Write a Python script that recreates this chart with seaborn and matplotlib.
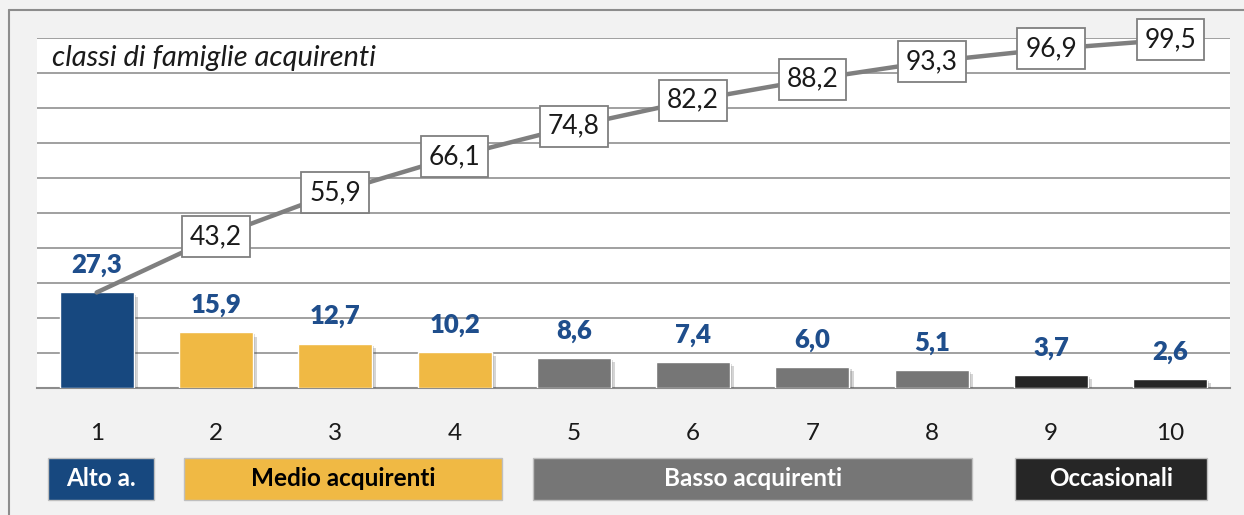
import matplotlib
matplotlib.use("Agg")
import matplotlib.pyplot as plt
import matplotlib.patheffects as pe
from matplotlib.patches import Rectangle
from matplotlib.lines import Line2D
import matplotlib.transforms as mtransforms
import seaborn as sns
import pandas as pd

# ---- data ----
classes = ["1", "2", "3", "4", "5", "6", "7", "8", "9", "10"]
share = [27.3, 15.9, 12.7, 10.2, 8.6, 7.4, 6.0, 5.1, 3.7, 2.6]
cumulative = [27.3, 43.2, 55.9, 66.1, 74.8, 82.2, 88.2, 93.3, 96.9, 99.5]
share_labels = ["27,3", "15,9", "12,7", "10,2", "8,6", "7,4", "6,0", "5,1", "3,7", "2,6"]
cum_labels = ["27,3", "43,2", "55,9", "66,1", "74,8", "82,2", "88,2", "93,3", "96,9", "99,5"]
group_names = ["Alto a.", "Medio acquirenti", "Basso acquirenti", "Occasionali"]
group_of_class = ["Alto a.", "Medio acquirenti", "Medio acquirenti", "Medio acquirenti",
                  "Basso acquirenti", "Basso acquirenti", "Basso acquirenti", "Basso acquirenti",
                  "Occasionali", "Occasionali"]
title_text = "classi di famiglie acquirenti"

# ---- styles ----
group_colors = {"Alto a.": "#17487f", "Medio acquirenti": "#f0b944",
                "Basso acquirenti": "#767676", "Occasionali": "#262626"}
group_text_colors = {"Alto a.": "white", "Medio acquirenti": "black",
                     "Basso acquirenti": "white", "Occasionali": "white"}
# box extents (data x coords) for the group labels
group_box_x = {"Alto a.": (-0.41, 0.48), "Medio acquirenti": (0.73, 3.40),
               "Basso acquirenti": (3.66, 7.34), "Occasionali": (7.70, 9.31)}

sns.set_theme(style="white")
plt.rcParams['font.family'] = ['Lato', 'DejaVu Sans']

W, H = 1244, 515
fig = plt.figure(figsize=(W / 100, H / 100), dpi=100, facecolor="#f2f2f2")
ax = fig.add_axes([37 / W, 1 - 388 / H, (1230 - 37) / W, (388 - 38) / H])
ax.set_facecolor("white")

df = pd.DataFrame({"classe": classes, "quota": share, "gruppo": group_of_class})
sns.barplot(data=df, x="classe", y="quota", hue="gruppo", palette=group_colors,
            dodge=False, width=0.62, legend=False, ax=ax, zorder=3, saturation=1)

for p in ax.patches:
    p.set_path_effects([pe.SimplePatchShadow(offset=(3, -3), alpha=0.22, shadow_rgbFace="#404040"),
                        pe.SimplePatchShadow(offset=(1.5, -1.5), alpha=0.22, shadow_rgbFace="#404040"),
                        pe.Normal()])

# bar value labels
for i, (v, lab) in enumerate(zip(share, share_labels)):
    ax.annotate(lab, (i, v), xytext=(0, 14), textcoords="offset points",
                ha="center", va="baseline", fontsize=18.5, fontweight="heavy",
                color="#1f4e8c", zorder=6)

# cumulative line
xs = list(range(len(classes)))
sns.lineplot(x=xs, y=cumulative, ax=ax, color="#7f7f7f", linewidth=3.2, zorder=4,
             estimator=None, sort=False)
for i, (v, lab) in enumerate(zip(cumulative, cum_labels)):
    if i == 0:
        continue
    ax.text(i, v, lab, ha="center", va="center", fontsize=19, color="#1a1a1a", zorder=7,
            bbox=dict(boxstyle="square,pad=0.3", facecolor="white", edgecolor="#7f7f7f",
                      linewidth=1.3), clip_on=False)

ax.set_ylim(0, 100)
ax.set_xlim(-0.5, len(classes) - 0.5)
ax.set_yticks(range(0, 101, 10))
ax.set_yticklabels([])
ax.yaxis.grid(True, color="#a0a0a0", linewidth=1.4, zorder=0)
ax.set_axisbelow(True)
for s in ["left", "right", "top"]:
    ax.spines[s].set_visible(False)
ax.spines["bottom"].set_color("#8c8c8c")
ax.spines["bottom"].set_linewidth(1.5)
ax.set_xlabel("")
ax.set_ylabel("")
ax.tick_params(axis="y", length=0)
ax.tick_params(axis="x", which="major", length=0, pad=25, labelsize=17.5, labelcolor="#1a1a1a")
ax.set_xticks(xs, minor=False)
ax.set_xticklabels(classes)
ax.set_xticks([x - 0.5 for x in range(len(classes) + 1)], minor=True)
ax.tick_params(axis="x", which="minor", length=8, width=1.5, color="#8c8c8c", direction="out")

ax.text(0.0126, 0.943, title_text, transform=ax.transAxes, ha="left", va="center",
        fontsize=21, fontstyle="italic", color="#1a1a1a")

# group label boxes
trans = mtransforms.blended_transform_factory(ax.transData, ax.transAxes)
y0, y1 = -0.32, -0.20
for g in group_names:
    xa, xb = group_box_x[g]
    ax.add_patch(Rectangle((xa, y0), xb - xa, y1 - y0, transform=trans, clip_on=False,
                           facecolor=group_colors[g], edgecolor="#bfbfbf", linewidth=1.0))
    ax.text((xa + xb) / 2, (y0 + y1) / 2, g, transform=trans, ha="center", va="center",
            fontsize=17.5, fontweight="bold", color=group_text_colors[g])

# outer border
fig.add_artist(Line2D([9 / W, 9 / W], [0, 1 - 10 / H], transform=fig.transFigure,
                      color="#8c8c8c", linewidth=1.5))
fig.add_artist(Line2D([9 / W, 1], [1 - 10 / H, 1 - 10 / H], transform=fig.transFigure,
                      color="#8c8c8c", linewidth=1.5))

fig.savefig("out.png", dpi=100, facecolor=fig.get_facecolor())
